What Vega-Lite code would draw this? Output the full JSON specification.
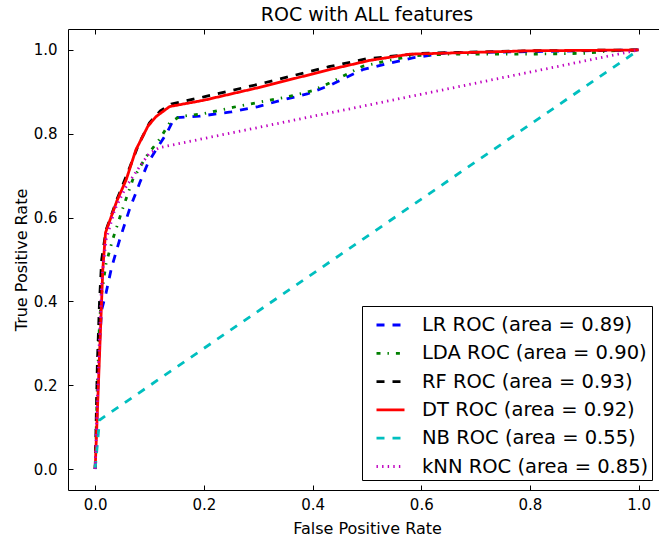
{
  "$schema": "https://vega.github.io/schema/vega-lite/v6.json",
  "width": 591,
  "height": 461,
  "autosize": "none",
  "padding": {"left": 68, "top": 29, "right": 0, "bottom": 49},
  "background": "white",
  "config": {"font": "DejaVu Sans", "view": {"stroke": null}, "legend": {"strokeWidth": 1}},
  "title": {"text": "ROC with ALL features", "fontSize": 19, "fontWeight": "normal", "color": "black", "offset": 4, "dx": 3.5, "anchor": "middle", "font": "DejaVu Sans"},
  "data": {"values": [
    {"model": "LR ROC (area = 0.89)", "i": 0, "fpr": 0, "tpr": 0},
    {"model": "LR ROC (area = 0.89)", "i": 1, "fpr": 0.004, "tpr": 0.15},
    {"model": "LR ROC (area = 0.89)", "i": 2, "fpr": 0.008, "tpr": 0.3},
    {"model": "LR ROC (area = 0.89)", "i": 3, "fpr": 0.012, "tpr": 0.38},
    {"model": "LR ROC (area = 0.89)", "i": 4, "fpr": 0.02, "tpr": 0.42},
    {"model": "LR ROC (area = 0.89)", "i": 5, "fpr": 0.03, "tpr": 0.48},
    {"model": "LR ROC (area = 0.89)", "i": 6, "fpr": 0.045, "tpr": 0.547},
    {"model": "LR ROC (area = 0.89)", "i": 7, "fpr": 0.063, "tpr": 0.619},
    {"model": "LR ROC (area = 0.89)", "i": 8, "fpr": 0.082, "tpr": 0.683},
    {"model": "LR ROC (area = 0.89)", "i": 9, "fpr": 0.097, "tpr": 0.73},
    {"model": "LR ROC (area = 0.89)", "i": 10, "fpr": 0.112, "tpr": 0.762},
    {"model": "LR ROC (area = 0.89)", "i": 11, "fpr": 0.131, "tpr": 0.8},
    {"model": "LR ROC (area = 0.89)", "i": 12, "fpr": 0.146, "tpr": 0.838},
    {"model": "LR ROC (area = 0.89)", "i": 13, "fpr": 0.192, "tpr": 0.842},
    {"model": "LR ROC (area = 0.89)", "i": 14, "fpr": 0.25, "tpr": 0.852},
    {"model": "LR ROC (area = 0.89)", "i": 15, "fpr": 0.3, "tpr": 0.865},
    {"model": "LR ROC (area = 0.89)", "i": 16, "fpr": 0.345, "tpr": 0.881},
    {"model": "LR ROC (area = 0.89)", "i": 17, "fpr": 0.39, "tpr": 0.895},
    {"model": "LR ROC (area = 0.89)", "i": 18, "fpr": 0.431, "tpr": 0.915},
    {"model": "LR ROC (area = 0.89)", "i": 19, "fpr": 0.492, "tpr": 0.953},
    {"model": "LR ROC (area = 0.89)", "i": 20, "fpr": 0.54, "tpr": 0.968},
    {"model": "LR ROC (area = 0.89)", "i": 21, "fpr": 0.584, "tpr": 0.981},
    {"model": "LR ROC (area = 0.89)", "i": 22, "fpr": 0.646, "tpr": 0.993},
    {"model": "LR ROC (area = 0.89)", "i": 23, "fpr": 0.8, "tpr": 0.996},
    {"model": "LR ROC (area = 0.89)", "i": 24, "fpr": 0.9, "tpr": 0.998},
    {"model": "LR ROC (area = 0.89)", "i": 25, "fpr": 1, "tpr": 1},

    {"model": "LDA ROC (area = 0.90)", "i": 0, "fpr": 0, "tpr": 0},
    {"model": "LDA ROC (area = 0.90)", "i": 1, "fpr": 0.004, "tpr": 0.2},
    {"model": "LDA ROC (area = 0.90)", "i": 2, "fpr": 0.008, "tpr": 0.35},
    {"model": "LDA ROC (area = 0.90)", "i": 3, "fpr": 0.012, "tpr": 0.42},
    {"model": "LDA ROC (area = 0.90)", "i": 4, "fpr": 0.02, "tpr": 0.49},
    {"model": "LDA ROC (area = 0.90)", "i": 5, "fpr": 0.032, "tpr": 0.547},
    {"model": "LDA ROC (area = 0.90)", "i": 6, "fpr": 0.05, "tpr": 0.619},
    {"model": "LDA ROC (area = 0.90)", "i": 7, "fpr": 0.069, "tpr": 0.69},
    {"model": "LDA ROC (area = 0.90)", "i": 8, "fpr": 0.094, "tpr": 0.746},
    {"model": "LDA ROC (area = 0.90)", "i": 9, "fpr": 0.118, "tpr": 0.786},
    {"model": "LDA ROC (area = 0.90)", "i": 10, "fpr": 0.137, "tpr": 0.826},
    {"model": "LDA ROC (area = 0.90)", "i": 11, "fpr": 0.155, "tpr": 0.841},
    {"model": "LDA ROC (area = 0.90)", "i": 12, "fpr": 0.2, "tpr": 0.848},
    {"model": "LDA ROC (area = 0.90)", "i": 13, "fpr": 0.253, "tpr": 0.863},
    {"model": "LDA ROC (area = 0.90)", "i": 14, "fpr": 0.3, "tpr": 0.875},
    {"model": "LDA ROC (area = 0.90)", "i": 15, "fpr": 0.357, "tpr": 0.889},
    {"model": "LDA ROC (area = 0.90)", "i": 16, "fpr": 0.4, "tpr": 0.903},
    {"model": "LDA ROC (area = 0.90)", "i": 17, "fpr": 0.431, "tpr": 0.921},
    {"model": "LDA ROC (area = 0.90)", "i": 18, "fpr": 0.492, "tpr": 0.961},
    {"model": "LDA ROC (area = 0.90)", "i": 19, "fpr": 0.54, "tpr": 0.975},
    {"model": "LDA ROC (area = 0.90)", "i": 20, "fpr": 0.584, "tpr": 0.986},
    {"model": "LDA ROC (area = 0.90)", "i": 21, "fpr": 0.65, "tpr": 0.99},
    {"model": "LDA ROC (area = 0.90)", "i": 22, "fpr": 0.8, "tpr": 0.99},
    {"model": "LDA ROC (area = 0.90)", "i": 23, "fpr": 0.9, "tpr": 0.992},
    {"model": "LDA ROC (area = 0.90)", "i": 24, "fpr": 0.95, "tpr": 0.998},
    {"model": "LDA ROC (area = 0.90)", "i": 25, "fpr": 1, "tpr": 1},

    {"model": "RF ROC (area = 0.93)", "i": 0, "fpr": 0, "tpr": 0},
    {"model": "RF ROC (area = 0.93)", "i": 1, "fpr": 0.004, "tpr": 0.25},
    {"model": "RF ROC (area = 0.93)", "i": 2, "fpr": 0.008, "tpr": 0.4},
    {"model": "RF ROC (area = 0.93)", "i": 3, "fpr": 0.012, "tpr": 0.5},
    {"model": "RF ROC (area = 0.93)", "i": 4, "fpr": 0.02, "tpr": 0.57},
    {"model": "RF ROC (area = 0.93)", "i": 5, "fpr": 0.04, "tpr": 0.643},
    {"model": "RF ROC (area = 0.93)", "i": 6, "fpr": 0.06, "tpr": 0.708},
    {"model": "RF ROC (area = 0.93)", "i": 7, "fpr": 0.08, "tpr": 0.775},
    {"model": "RF ROC (area = 0.93)", "i": 8, "fpr": 0.1, "tpr": 0.826},
    {"model": "RF ROC (area = 0.93)", "i": 9, "fpr": 0.12, "tpr": 0.855},
    {"model": "RF ROC (area = 0.93)", "i": 10, "fpr": 0.14, "tpr": 0.871},
    {"model": "RF ROC (area = 0.93)", "i": 11, "fpr": 0.2, "tpr": 0.888},
    {"model": "RF ROC (area = 0.93)", "i": 12, "fpr": 0.3, "tpr": 0.918},
    {"model": "RF ROC (area = 0.93)", "i": 13, "fpr": 0.43, "tpr": 0.96},
    {"model": "RF ROC (area = 0.93)", "i": 14, "fpr": 0.5, "tpr": 0.979},
    {"model": "RF ROC (area = 0.93)", "i": 15, "fpr": 0.6, "tpr": 0.992},
    {"model": "RF ROC (area = 0.93)", "i": 16, "fpr": 0.8, "tpr": 0.998},
    {"model": "RF ROC (area = 0.93)", "i": 17, "fpr": 1, "tpr": 1},

    {"model": "DT ROC (area = 0.92)", "i": 0, "fpr": 0, "tpr": 0},
    {"model": "DT ROC (area = 0.92)", "i": 1, "fpr": 0.014, "tpr": 0.475},
    {"model": "DT ROC (area = 0.92)", "i": 2, "fpr": 0.019, "tpr": 0.564},
    {"model": "DT ROC (area = 0.92)", "i": 3, "fpr": 0.04, "tpr": 0.64},
    {"model": "DT ROC (area = 0.92)", "i": 4, "fpr": 0.057, "tpr": 0.69},
    {"model": "DT ROC (area = 0.92)", "i": 5, "fpr": 0.075, "tpr": 0.762},
    {"model": "DT ROC (area = 0.92)", "i": 6, "fpr": 0.097, "tpr": 0.818},
    {"model": "DT ROC (area = 0.92)", "i": 7, "fpr": 0.112, "tpr": 0.841},
    {"model": "DT ROC (area = 0.92)", "i": 8, "fpr": 0.137, "tpr": 0.865},
    {"model": "DT ROC (area = 0.92)", "i": 9, "fpr": 0.2, "tpr": 0.88},
    {"model": "DT ROC (area = 0.92)", "i": 10, "fpr": 0.3, "tpr": 0.91},
    {"model": "DT ROC (area = 0.92)", "i": 11, "fpr": 0.431, "tpr": 0.953},
    {"model": "DT ROC (area = 0.92)", "i": 12, "fpr": 0.505, "tpr": 0.975},
    {"model": "DT ROC (area = 0.92)", "i": 13, "fpr": 0.579, "tpr": 0.99},
    {"model": "DT ROC (area = 0.92)", "i": 14, "fpr": 0.8, "tpr": 0.998},
    {"model": "DT ROC (area = 0.92)", "i": 15, "fpr": 1, "tpr": 1},

    {"model": "NB ROC (area = 0.55)", "i": 0, "fpr": 0, "tpr": 0},
    {"model": "NB ROC (area = 0.55)", "i": 1, "fpr": 0.008, "tpr": 0.117},
    {"model": "NB ROC (area = 0.55)", "i": 2, "fpr": 1, "tpr": 1},

    {"model": "kNN ROC (area = 0.85)", "i": 0, "fpr": 0, "tpr": 0},
    {"model": "kNN ROC (area = 0.85)", "i": 1, "fpr": 0.006, "tpr": 0.25},
    {"model": "kNN ROC (area = 0.85)", "i": 2, "fpr": 0.012, "tpr": 0.45},
    {"model": "kNN ROC (area = 0.85)", "i": 3, "fpr": 0.02, "tpr": 0.547},
    {"model": "kNN ROC (area = 0.85)", "i": 4, "fpr": 0.036, "tpr": 0.619},
    {"model": "kNN ROC (area = 0.85)", "i": 5, "fpr": 0.057, "tpr": 0.674},
    {"model": "kNN ROC (area = 0.85)", "i": 6, "fpr": 0.082, "tpr": 0.722},
    {"model": "kNN ROC (area = 0.85)", "i": 7, "fpr": 0.1, "tpr": 0.754},
    {"model": "kNN ROC (area = 0.85)", "i": 8, "fpr": 0.118, "tpr": 0.767},
    {"model": "kNN ROC (area = 0.85)", "i": 9, "fpr": 1, "tpr": 1}
  ]},
  "layer": [
    {
      "mark": {"type": "line", "strokeWidth": 2.8, "clip": true},
      "encoding": {
        "x": {"field": "fpr", "type": "quantitative",
          "scale": {"domain": [-0.05, 1.0374], "nice": false, "zero": false},
          "axis": {"orient": "bottom", "values": [0, 0.2, 0.4, 0.6, 0.8, 1.0], "format": ".1f", "grid": false,
            "tickSize": -5, "tickColor": "black", "domainColor": "black", "domainWidth": 1, "tickWidth": 1,
            "labelFontSize": 15, "labelColor": "black", "labelPadding": 12, "labelFlush": false, "labelFont": "DejaVu Sans",
            "title": "False Positive Rate", "titleFontSize": 16, "titleFontWeight": "normal", "titleColor": "black", "titleFont": "DejaVu Sans",
            "titleX": 299, "titleY": 43, "titleBaseline": "alphabetic"}},
        "y": {"field": "tpr", "type": "quantitative",
          "scale": {"domain": [-0.05, 1.05], "nice": false, "zero": false},
          "axis": {"orient": "left", "values": [0, 0.2, 0.4, 0.6, 0.8, 1.0], "format": ".1f", "grid": false,
            "tickSize": -5, "tickColor": "black", "domainColor": "black", "domainWidth": 1, "tickWidth": 1,
            "labelFontSize": 15, "labelColor": "black", "labelPadding": 16, "labelFlush": false, "labelFont": "DejaVu Sans",
            "title": "True Positive Rate", "titleFontSize": 16, "titleFontWeight": "normal", "titleColor": "black", "titleFont": "DejaVu Sans",
            "titleX": -42, "titleBaseline": "alphabetic"}},
        "color": {"field": "model", "type": "nominal",
          "scale": {"domain": ["LR ROC (area = 0.89)", "LDA ROC (area = 0.90)", "RF ROC (area = 0.93)", "DT ROC (area = 0.92)", "NB ROC (area = 0.55)", "kNN ROC (area = 0.85)"],
                    "range": ["#0000ff", "#008000", "#000000", "#ff0000", "#00bfbf", "#bf00bf"]},
          "legend": {"orient": "none", "legendX": 294, "legendY": 277, "title": null, "strokeColor": "black", "fillColor": "white",
            "padding": 3.5, "symbolType": "stroke", "symbolSize": 784, "symbolStrokeWidth": 2.8, "labelFontSize": 19.5, "labelFont": "DejaVu Sans",
            "labelColor": "black", "rowPadding": 3.3, "symbolOffset": 9.5, "labelOffset": 16, "labelLimit": 400, "cornerRadius": 0,
            "labelExpr": "datum.label + ' '"}},
        "strokeDash": {"field": "model", "type": "nominal",
          "scale": {"domain": ["LR ROC (area = 0.89)", "LDA ROC (area = 0.90)", "RF ROC (area = 0.93)", "DT ROC (area = 0.92)", "NB ROC (area = 0.55)", "kNN ROC (area = 0.85)"],
                    "range": [[8, 8], [4, 7, 1.4, 7], [8, 8], [1, 0], [8, 8], [1.4, 4.2]]},
          "legend": {"orient": "none", "legendX": 294, "legendY": 277, "title": null, "strokeColor": "black", "fillColor": "white",
            "padding": 3.5, "symbolType": "stroke", "symbolSize": 784, "symbolStrokeWidth": 2.8, "labelFontSize": 19.5, "labelFont": "DejaVu Sans",
            "labelColor": "black", "rowPadding": 3.3, "symbolOffset": 9.5, "labelOffset": 16, "labelLimit": 400, "cornerRadius": 0,
            "labelExpr": "datum.label + ' '"}},
        "order": {"field": "i", "type": "quantitative"}
      }
    },
    {
      "mark": {"type": "point", "opacity": 0},
      "encoding": {
        "x": {"field": "fpr", "type": "quantitative",
          "scale": {"domain": [-0.05, 1.0374], "nice": false, "zero": false},
          "axis": {"orient": "top", "values": [0, 0.2, 0.4, 0.6, 0.8, 1.0], "grid": false, "labels": false, "title": null,
            "tickSize": -5, "tickColor": "black", "domainColor": "black", "domainWidth": 1, "tickWidth": 1}},
        "y": {"field": "tpr", "type": "quantitative", "scale": {"domain": [-0.05, 1.05], "nice": false, "zero": false}}
      }
    }
  ],
  "resolve": {"axis": {"x": "independent"}}
}
